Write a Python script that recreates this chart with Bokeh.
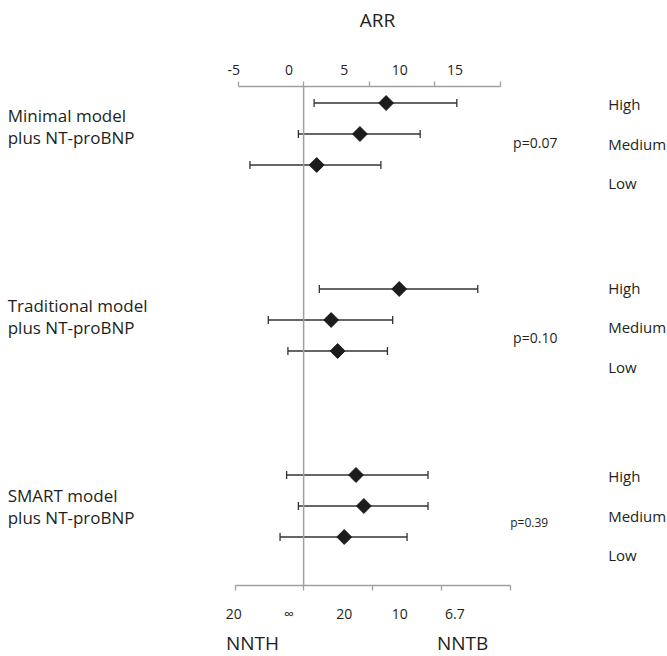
import numpy as np
from bokeh.plotting import figure
from bokeh.layouts import column
from bokeh.models import (Range1d, LinearAxis, FixedTicker, ColumnDataSource, Whisker,
                          TeeHead, Span)
from bokeh.core.properties import value
from bokeh.embed import file_html
from bokeh.resources import INLINE

# ---------------- data ----------------
groups = ["Minimal model\nplus NT-proBNP",
          "Traditional model\nplus NT-proBNP",
          "SMART model\nplus NT-proBNP"]
levels = ["High", "Medium", "Low"]
p_values = ["p=0.07", "p=0.10", "p=0.39"]

arr_est = [[6.3, 4.3, 1.0], [7.3, 2.1, 2.6], [4.0, 4.6, 3.1]]
arr_lo = [[0.8, -0.4, -4.1], [1.2, -2.7, -1.2], [-1.3, -0.4, -1.8]]
arr_hi = [[11.7, 8.9, 5.9], [13.3, 6.8, 6.4], [9.5, 9.5, 7.9]]

arr_ticks = [-5, 0, 5, 10, 15]
arr_tick_labels = ["-5", "0", "5", "10", "15"]
nnt_tick_labels = ["20", "\u221e", "20", "10", "6.7"]
arr_title = ["ARR"]
nnt_titles = ["NNTH", "NNTB"]

# ---------------- style ----------------
GRAY = "#a0a0a0"
TXT = "#231f20"
DARK = "#1c1c1c"
FONT = "Open Sans"
LAB_RANGE = (-26.09, 34.22)      # scale used by the printed tick labels
SLOT = 31.0                      # pixels per row slot

# ---------------- layout helpers ----------------
lvl_base = [1.5, -1.0, 1.5]      # px offsets of the right-hand level labels per group
ys, est, lo, hi = [], [], [], []
lvl_y, lvl_t = [], []
for g in range(len(groups)):
    for r in range(len(levels)):
        ys.append(6 * g + r)
        est.append(arr_est[g][r])
        lo.append(arr_lo[g][r])
        hi.append(arr_hi[g][r])
        lvl_y.append(6 * g + (lvl_base[g] + 39.3 * r) / SLOT)
        lvl_t.append(levels[r])

src = ColumnDataSource(dict(y=ys, est=est, lo=lo, hi=hi))

p = figure(width=667, height=625,
           x_range=Range1d(-23.15, 27.79), y_range=Range1d(15.565, -0.532),
           output_backend="svg", toolbar_location=None,
           x_axis_location=None, y_axis_location=None,
           min_border_left=0, min_border_right=0, min_border_top=86, min_border_bottom=40,
           outline_line_color=None, background_fill_color="white", border_fill_color="white")
p.extra_x_ranges = {"lab": Range1d(*LAB_RANGE), "nnt": Range1d(-22.06, 26.45)}
p.xgrid.visible = False
p.ygrid.visible = False


def tick_axis(range_name, t_in, t_out):
    ax = LinearAxis(ticker=FixedTicker(ticks=arr_ticks), bounds=(arr_ticks[0], arr_ticks[-1]),
                    major_label_overrides={t: "" for t in arr_ticks},
                    major_label_text_font_size="0px", major_label_standoff=0,
                    axis_line_color=GRAY, axis_line_width=1.3,
                    major_tick_line_color=GRAY, major_tick_line_width=1.3,
                    major_tick_in=t_in, major_tick_out=t_out, minor_tick_line_color=None)
    if range_name:
        ax.x_range_name = range_name
    return ax


def label_axis(ticks, labels, standoff, size):
    return LinearAxis(x_range_name="lab", ticker=FixedTicker(ticks=ticks),
                      major_label_overrides={t: s for t, s in zip(ticks, labels)},
                      major_label_text_font=FONT, major_label_text_font_size=size,
                      major_label_text_color=TXT, major_label_standoff=standoff,
                      axis_line_color=None, major_tick_line_color=None,
                      major_tick_in=0, major_tick_out=0, minor_tick_line_color=None)


p.add_layout(tick_axis(None, 0, 5), "above")
p.add_layout(label_axis(arr_ticks, arr_tick_labels, 7, "14px"), "above")
p.add_layout(label_axis([8.0], arr_title, 29, "19px"), "above")

p.add_layout(tick_axis("nnt", -5, 0), "below")
p.add_layout(label_axis(arr_ticks, nnt_tick_labels, 18, "14px"), "below")

# zero line
p.add_layout(Span(location=0, dimension="height", line_color=GRAY, line_width=1.5))

# confidence intervals
p.add_layout(Whisker(source=src, base="y", lower="lo", upper="hi", dimension="width",
                     line_color="#333333", line_width=1.3,
                     upper_head=TeeHead(size=8, line_color="#333333", line_width=1.3),
                     lower_head=TeeHead(size=8, line_color="#333333", line_width=1.3)))

# point estimates (diamonds)
p.scatter(x="est", y="y", source=src, marker="square", angle=np.pi / 4, size=10.5,
          fill_color=DARK, line_color=DARK)

# group labels (left)
gx, gy, gt = [], [], []
for g, name in enumerate(groups):
    for k, line in enumerate(name.split("\n")):
        gx.append(-22.6)
        gy.append(0.4 + 6.13 * g + 0.7 * k)
        gt.append(line)
p.text(x=gx, y=gy, text=gt, text_font=value(FONT), text_font_size="17px",
       text_color=TXT, text_align="left", text_baseline="middle")

# level labels (right)
p.text(x=[23.26] * len(lvl_t), y=lvl_y, text=lvl_t, text_font=value(FONT),
       text_font_size="15px", text_color=TXT, text_align="left", text_baseline="middle")

# p values
p_off = [1.26, 1.58, 1.53]
p_x = [16.0, 16.0, 15.78]
p_size = ["14px", "14px", "12px"]
for g, pv in enumerate(p_values):
    p.text(x=[p_x[g]], y=[6 * g + p_off[g]], text=[pv], text_font=value(FONT),
           text_font_size=p_size[g], text_color=TXT, text_align="left", text_baseline="middle")

# strip below the main plot holding the NNTH / NNTB captions
q = figure(width=667, height=31, x_range=Range1d(*LAB_RANGE), y_range=Range1d(31, 0),
           output_backend="svg", toolbar_location=None,
           x_axis_location=None, y_axis_location=None,
           min_border_left=0, min_border_right=0, min_border_top=0, min_border_bottom=0,
           outline_line_color=None, background_fill_color="white", border_fill_color="white")
q.xgrid.visible = False
q.ygrid.visible = False
q.text(x=[-3.3, 15.69], y=[30.6, 30.6], text=nnt_titles, text_font=value(FONT),
       text_font_size="19px", text_color=TXT, text_align="center", text_baseline="bottom")

layout = column(p, q, spacing=0)
open("out.html", "w").write(file_html(layout, INLINE))
